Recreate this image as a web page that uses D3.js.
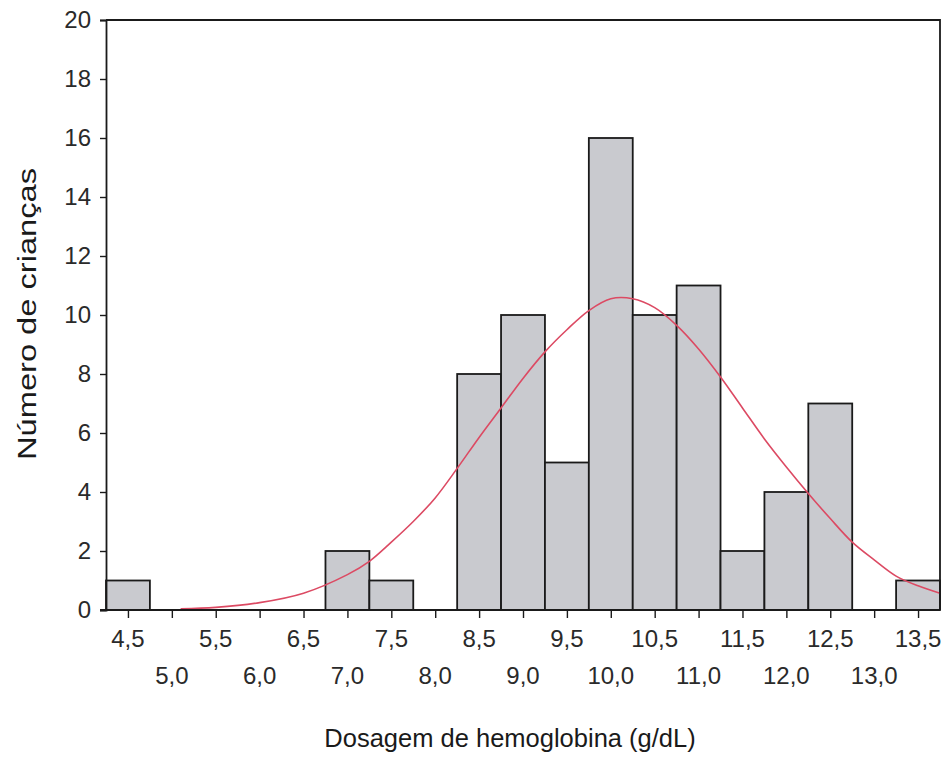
<!DOCTYPE html>
<html>
<head>
<meta charset="utf-8">
<script src="https://cdn.jsdelivr.net/npm/d3@7"></script>
<style>
  html, body { margin: 0; padding: 0; background: #fff; }
  svg { display: block; font-family: "Liberation Sans", Arial, sans-serif; }
</style>
</head>
<body>
<script>
// histogram bins (centre of each 0.5 g/dL class) and counts
var binCentres = [4.5, 5.0, 5.5, 6.0, 6.5, 7.0, 7.5, 8.0, 8.5, 9.0, 9.5, 10.0, 10.5, 11.0, 11.5, 12.0, 12.5, 13.0, 13.5];
var counts     = [1,   0,   0,   0,   0,   2,   1,   0,   8,   10,  5,   16,   10,   11,   2,    4,    7,    0,    1];
var binWidth = 0.5;

// normal curve
var curveX = [5.1, 5.5, 6.0, 6.5, 7.0, 7.25, 7.5, 7.75, 8.0, 8.25, 8.5, 8.75, 9.0, 9.25, 9.5, 9.75, 10.0, 10.25, 10.5, 10.75, 11.0, 11.25, 11.5, 11.75, 12.0, 12.25, 12.5, 12.75, 13.0, 13.25, 13.5, 13.75];
var curveY = [0.04, 0.09, 0.25, 0.57, 1.2, 1.65, 2.3, 3.0, 3.8, 4.8, 5.85, 6.85, 7.85, 8.75, 9.5, 10.15, 10.55, 10.55, 10.25, 9.65, 8.85, 7.9, 6.85, 5.8, 4.85, 3.95, 3.1, 2.3, 1.7, 1.15, 0.82, 0.57];

var yTicks = [0, 2, 4, 6, 8, 10, 12, 14, 16, 18, 20];

var W = 943, H = 762;
var margin = {top: 20, right: 3, bottom: 152, left: 106};

var svg = d3.select("body").append("svg")
  .attr("width", W)
  .attr("height", H);

var x = d3.scaleLinear()
  .domain([4.25, 13.75])
  .range([margin.left, W - margin.right]);

var y = d3.scaleLinear()
  .domain([0, 20])
  .range([H - margin.bottom, margin.top]);

var ptBR = d3.formatLocale({decimal: ",", thousands: ".", grouping: [3], currency: ["R$", ""]});
var fmt = ptBR.format(".1f");

// bars
var bins = binCentres.map(function(c, i) { return {c: c, n: counts[i]}; })
  .filter(function(d) { return d.n > 0; });

svg.append("g")
  .selectAll("rect")
  .data(bins)
  .enter()
  .append("rect")
  .attr("x", function(d) { return x(d.c - binWidth / 2); })
  .attr("y", function(d) { return y(d.n); })
  .attr("width", function(d) { return x(d.c + binWidth / 2) - x(d.c - binWidth / 2); })
  .attr("height", function(d) { return y(0) - y(d.n); })
  .attr("fill", "#c9cacf")
  .attr("stroke", "#1a1a1a")
  .attr("stroke-width", 1.8);

// normal curve
var line = d3.line()
  .x(function(d) { return x(d[0]); })
  .y(function(d) { return y(d[1]); })
  .curve(d3.curveCatmullRom);

svg.append("path")
  .datum(d3.zip(curveX, curveY))
  .attr("d", line)
  .attr("fill", "none")
  .attr("stroke", "#dc4a63")
  .attr("stroke-width", 1.6);

// frame (top and right)
svg.append("path")
  .attr("d", "M" + x(4.25) + "," + y(20) + "H" + x(13.75) + "V" + y(0))
  .attr("fill", "none")
  .attr("stroke", "#1a1a1a")
  .attr("stroke-width", 1.8);

// y axis
var yAxis = svg.append("g")
  .attr("transform", "translate(" + margin.left + ",0)")
  .call(d3.axisLeft(y).tickValues(yTicks).tickSize(6).tickPadding(9).tickFormat(d3.format("d")));
yAxis.select(".domain").attr("stroke", "#1a1a1a").attr("stroke-width", 1.8);
yAxis.selectAll(".tick line").attr("stroke", "#1a1a1a").attr("stroke-width", 1.4);
yAxis.selectAll("text")
  .attr("font-size", 24)
  .attr("fill", "#2a2a2a")
  .style("font-family", "Liberation Sans, Arial, sans-serif");

// x axis: line extends a little to the left like the original
svg.append("line")
  .attr("x1", margin.left - 6)
  .attr("x2", W - margin.right)
  .attr("y1", y(0))
  .attr("y2", y(0))
  .attr("stroke", "#1a1a1a")
  .attr("stroke-width", 1.8);

var xAxis = svg.append("g")
  .attr("transform", "translate(0," + y(0) + ")")
  .call(d3.axisBottom(x).tickValues(binCentres).tickSize(8).tickFormat(""));
xAxis.select(".domain").remove();
xAxis.selectAll(".tick line").attr("stroke", "#1a1a1a").attr("stroke-width", 1.4);

// tick labels staggered on two rows
svg.append("g")
  .selectAll("text")
  .data(binCentres)
  .enter()
  .append("text")
  .attr("x", function(d) { return x(d); })
  .attr("y", function(d, i) { return i % 2 === 0 ? 647 : 684; })
  .attr("text-anchor", "middle")
  .attr("font-size", 24)
  .attr("fill", "#2a2a2a")
  .text(function(d) { return fmt(d); });

// axis titles
svg.append("text")
  .attr("x", 510)
  .attr("y", 747)
  .attr("text-anchor", "middle")
  .attr("font-size", 25.5)
  .attr("fill", "#1a1a1a")
  .text("Dosagem de hemoglobina (g/dL)");

svg.append("text")
  .attr("transform", "translate(36,314) rotate(-90)")
  .attr("text-anchor", "middle")
  .attr("font-size", 25.5)
  .attr("textLength", 292)
  .attr("lengthAdjust", "spacingAndGlyphs")
  .attr("fill", "#1a1a1a")
  .text("Número de crianças");
</script>
</body>
</html>
